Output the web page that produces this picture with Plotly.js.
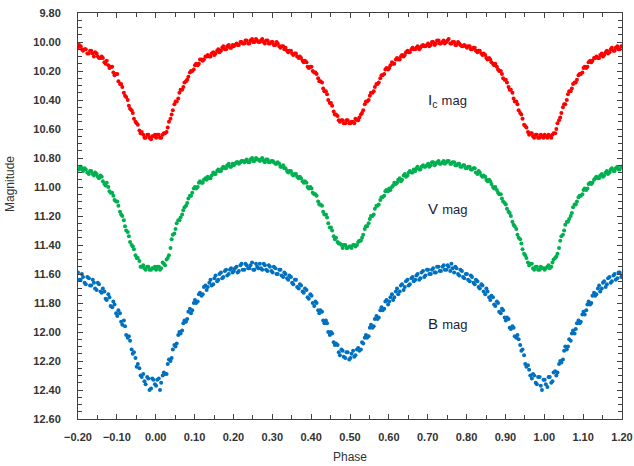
<!DOCTYPE html>
<html>
<head>
<meta charset="utf-8">
<script src="https://cdn.plot.ly/plotly-3.0.1.min.js"></script>
<style>html,body{margin:0;padding:0;background:#fff;}#chart{width:634px;height:466px;}</style>
</head>
<body>
<div id="chart"></div>
<script>
// Phase grid, first set of observations
const phase = [
-0.200,-0.193,-0.187,-0.180,-0.172,-0.166,-0.159,-0.152,-0.146,-0.139,
-0.132,-0.126,-0.119,-0.112,-0.106,-0.099,-0.092,-0.086,-0.079,-0.072,
-0.066,-0.059,-0.052,-0.046,-0.039,-0.032,-0.026,-0.019,-0.012,-0.006,
0.001,0.008,0.014,0.021,0.028,0.034,0.041,0.048,0.054,0.061,
0.068,0.074,0.081,0.088,0.094,0.101,0.108,0.114,0.121,0.128,
0.134,0.141,0.148,0.154,0.161,0.168,0.174,0.181,0.188,0.194,
0.201,0.208,0.214,0.221,0.228,0.234,0.241,0.248,0.254,0.261,
0.268,0.274,0.281,0.288,0.294,0.301,0.308,0.314,0.321,0.328,
0.334,0.341,0.348,0.354,0.361,0.368,0.374,0.381,0.388,0.394,
0.401,0.408,0.414,0.421,0.428,0.434,0.441,0.448,0.454,0.461,
0.468,0.474,0.481,0.488,0.494,0.501,0.508,0.514,0.521,0.528,
0.534,0.541,0.548,0.554,0.561,0.568,0.574,0.581,0.588,0.594,
0.601,0.608,0.614,0.621,0.628,0.634,0.641,0.648,0.654,0.661,
0.668,0.674,0.681,0.688,0.694,0.701,0.708,0.714,0.721,0.728,
0.734,0.741,0.748,0.754,0.761,0.768,0.774,0.781,0.788,0.794,
0.801,0.808,0.814,0.821,0.828,0.834,0.841,0.848,0.854,0.861,
0.868,0.874,0.881,0.888,0.894,0.901,0.908,0.914,0.921,0.928,
0.934,0.941,0.948,0.954,0.961,0.968,0.974,0.981,0.988,0.994,
1.001,1.008,1.014,1.021,1.028,1.034,1.041,1.048,1.054,1.061,
1.068,1.074,1.081,1.088,1.094,1.101,1.108,1.114,1.121,1.128,
1.134,1.141,1.148,1.154,1.161,1.168,1.174,1.181,1.188,1.194,
1.200
];

// Phase grid, second set of observations
const phase2 = [
-0.197,-0.190,-0.183,-0.176,-0.169,-0.162,-0.156,-0.149,-0.142,-0.136,
-0.129,-0.122,-0.116,-0.109,-0.102,-0.096,-0.089,-0.082,-0.076,-0.069,
-0.062,-0.056,-0.049,-0.042,-0.036,-0.029,-0.022,-0.016,-0.009,-0.002,
0.004,0.011,0.018,0.024,0.031,0.038,0.044,0.051,0.058,0.064,
0.071,0.078,0.084,0.091,0.098,0.104,0.111,0.118,0.124,0.131,
0.138,0.144,0.151,0.158,0.164,0.171,0.178,0.184,0.191,0.198,
0.204,0.211,0.218,0.224,0.231,0.238,0.244,0.251,0.258,0.264,
0.271,0.278,0.284,0.291,0.298,0.304,0.311,0.318,0.324,0.331,
0.338,0.344,0.351,0.358,0.364,0.371,0.378,0.384,0.391,0.398,
0.404,0.411,0.418,0.424,0.431,0.438,0.444,0.451,0.458,0.464,
0.471,0.478,0.484,0.491,0.498,0.504,0.511,0.518,0.524,0.531,
0.538,0.544,0.551,0.558,0.564,0.571,0.578,0.584,0.591,0.598,
0.604,0.611,0.618,0.624,0.631,0.638,0.644,0.651,0.658,0.664,
0.671,0.678,0.684,0.691,0.698,0.704,0.711,0.718,0.724,0.731,
0.738,0.744,0.751,0.758,0.764,0.771,0.778,0.784,0.791,0.798,
0.804,0.811,0.818,0.824,0.831,0.838,0.844,0.851,0.858,0.864,
0.871,0.878,0.884,0.891,0.898,0.904,0.911,0.918,0.924,0.931,
0.938,0.944,0.951,0.958,0.964,0.971,0.978,0.984,0.991,0.998,
1.004,1.011,1.018,1.024,1.031,1.038,1.044,1.051,1.058,1.064,
1.071,1.078,1.084,1.091,1.098,1.104,1.111,1.118,1.124,1.131,
1.138,1.144,1.151,1.158,1.164,1.171,1.178,1.184,1.191,1.198
];

// Ic magnitudes (set 1, set 2)
const icMag = [
10.04,10.03,10.06,10.05,10.08,10.06,10.10,10.08,10.11,10.10,
10.14,10.13,10.18,10.17,10.23,10.22,10.29,10.31,10.37,10.40,
10.46,10.49,10.55,10.57,10.63,10.64,10.66,10.64,10.67,10.65,
10.66,10.64,10.66,10.63,10.62,10.55,10.50,10.43,10.41,10.35,
10.33,10.28,10.26,10.21,10.20,10.16,10.16,10.12,10.13,10.10,
10.09,10.10,10.07,10.08,10.05,10.06,10.03,10.05,10.02,10.04,
10.03,10.01,10.02,10.00,10.01,9.99,10.01,9.98,10.00,9.99,
10.00,9.98,10.01,9.99,10.01,10.00,10.02,10.01,10.04,10.03,
10.04,10.07,10.06,10.09,10.08,10.11,10.11,10.14,10.14,10.18,
10.17,10.21,10.22,10.27,10.28,10.34,10.36,10.42,10.44,10.50,
10.51,10.55,10.54,10.56,10.54,10.56,10.55,10.53,10.54,10.50,
10.47,10.41,10.40,10.35,10.34,10.29,10.28,10.23,10.22,10.18,
10.18,10.14,10.15,10.11,10.12,10.09,10.09,10.06,10.07,10.04,
10.05,10.03,10.04,10.02,10.03,10.01,10.02,10.00,10.01,9.99,
10.01,9.99,10.00,9.98,10.01,10.00,10.02,10.01,10.03,10.02,
10.04,10.03,10.05,10.04,10.07,10.06,10.09,10.09,10.12,10.12,
10.15,10.15,10.19,10.20,10.25,10.26,10.31,10.33,10.39,10.41,
10.47,10.50,10.57,10.59,10.64,10.63,10.66,10.64,10.66,10.65,
10.64,10.66,10.65,10.64,10.63,10.56,10.52,10.45,10.43,10.36,
10.34,10.29,10.28,10.23,10.22,10.18,10.18,10.14,10.14,10.11,
10.10,10.11,10.08,10.09,10.06,10.07,10.04,10.06,10.03,10.05,
10.03
];
const icMag2 = [
10.02,10.05,10.05,10.08,10.06,10.08,10.07,10.10,10.11,10.11,
10.15,10.16,10.17,10.21,10.22,10.27,10.29,10.35,10.38,10.44,
10.47,10.53,10.56,10.61,10.62,10.66,10.64,10.66,10.65,10.64,
10.64,10.66,10.64,10.63,10.59,10.53,10.47,10.41,10.39,10.33,
10.31,10.27,10.24,10.20,10.19,10.15,10.15,10.12,10.12,10.10,
10.10,10.08,10.09,10.06,10.07,10.04,10.05,10.03,10.04,10.02,
10.02,10.02,10.00,10.01,9.99,10.01,9.99,10.00,9.98,10.00,
9.99,10.00,9.99,10.01,10.00,10.02,10.00,10.03,10.03,10.05,
10.06,10.06,10.08,10.08,10.10,10.10,10.13,10.13,10.17,10.17,
10.20,10.21,10.25,10.27,10.32,10.34,10.40,10.42,10.48,10.50,
10.54,10.54,10.56,10.54,10.56,10.55,10.56,10.54,10.52,10.49,
10.43,10.41,10.37,10.35,10.31,10.29,10.25,10.23,10.19,10.19,
10.16,10.15,10.12,10.12,10.10,10.10,10.07,10.07,10.05,10.05,
10.04,10.05,10.03,10.03,10.02,10.03,10.00,10.02,9.99,10.01,
10.00,10.01,9.99,10.01,10.00,10.02,10.00,10.02,10.03,10.03,
10.03,10.05,10.04,10.06,10.06,10.08,10.08,10.11,10.11,10.14,
10.16,10.17,10.20,10.22,10.26,10.28,10.33,10.35,10.41,10.43,
10.49,10.53,10.58,10.62,10.63,10.65,10.64,10.66,10.64,10.66,
10.65,10.64,10.66,10.63,10.60,10.54,10.49,10.43,10.40,10.34,
10.32,10.28,10.26,10.22,10.21,10.17,10.17,10.13,10.13,10.11,
10.11,10.09,10.10,10.07,10.08,10.05,10.06,10.04,10.05,10.03
];

// V magnitudes (set 1, set 2)
const vMag = [
10.87,10.86,10.89,10.88,10.91,10.89,10.92,10.91,10.94,10.93,
10.98,10.97,11.03,11.04,11.09,11.10,11.17,11.20,11.27,11.31,
11.38,11.41,11.47,11.49,11.55,11.54,11.57,11.55,11.57,11.56,
11.57,11.55,11.56,11.53,11.50,11.47,11.36,11.32,11.25,11.23,
11.19,11.14,11.11,11.06,11.04,11.00,11.00,10.96,10.97,10.94,
10.93,10.94,10.90,10.91,10.88,10.89,10.86,10.87,10.84,10.86,
10.85,10.83,10.84,10.82,10.83,10.81,10.83,10.80,10.82,10.81,
10.82,10.80,10.83,10.81,10.83,10.82,10.84,10.83,10.86,10.85,
10.87,10.90,10.89,10.92,10.91,10.94,10.94,10.97,10.97,11.01,
11.01,11.05,11.06,11.12,11.13,11.19,11.21,11.28,11.30,11.36,
11.38,11.39,11.42,11.40,11.42,11.41,11.40,11.41,11.38,11.37,
11.33,11.27,11.25,11.20,11.19,11.13,11.12,11.07,11.06,11.02,
11.01,11.00,10.97,10.97,10.94,10.95,10.91,10.92,10.89,10.90,
10.89,10.86,10.88,10.85,10.86,10.84,10.85,10.83,10.84,10.82,
10.84,10.82,10.83,10.82,10.84,10.83,10.85,10.84,10.86,10.85,
10.87,10.86,10.88,10.87,10.91,10.90,10.93,10.93,10.96,10.96,
11.00,11.00,11.04,11.05,11.10,11.12,11.17,11.20,11.26,11.29,
11.35,11.39,11.46,11.49,11.54,11.53,11.57,11.55,11.57,11.56,
11.57,11.55,11.56,11.52,11.49,11.46,11.37,11.33,11.26,11.24,
11.20,11.14,11.12,11.07,11.06,11.02,11.02,10.98,10.98,10.95,
10.93,10.94,10.91,10.92,10.89,10.90,10.87,10.89,10.86,10.88,
10.86
];
const vMag2 = [
10.88,10.87,10.87,10.90,10.89,10.91,10.90,10.93,10.92,10.96,
10.99,11.00,11.04,11.06,11.10,11.13,11.19,11.23,11.30,11.34,
11.40,11.43,11.49,11.51,11.55,11.56,11.55,11.57,11.56,11.55,
11.55,11.57,11.52,11.54,11.49,11.42,11.33,11.29,11.23,11.21,
11.16,11.13,11.08,11.06,11.01,11.01,10.97,10.97,10.95,10.95,
10.94,10.92,10.91,10.89,10.89,10.87,10.87,10.85,10.86,10.84,
10.84,10.83,10.83,10.82,10.82,10.83,10.81,10.82,10.80,10.81,
10.81,10.82,10.81,10.83,10.82,10.83,10.84,10.84,10.86,10.87,
10.89,10.89,10.91,10.91,10.93,10.93,10.96,10.96,11.00,11.00,
11.04,11.05,11.10,11.12,11.17,11.19,11.25,11.28,11.34,11.35,
11.39,11.40,11.40,11.42,11.41,11.42,11.40,11.40,11.37,11.35,
11.29,11.27,11.22,11.20,11.15,11.13,11.09,11.07,11.03,11.03,
11.02,10.99,10.98,10.95,10.96,10.92,10.93,10.90,10.90,10.88,
10.87,10.88,10.86,10.86,10.85,10.86,10.83,10.85,10.83,10.84,
10.83,10.84,10.82,10.84,10.83,10.85,10.84,10.86,10.85,10.87,
10.86,10.88,10.87,10.90,10.89,10.92,10.92,10.95,10.95,10.98,
11.01,11.02,11.05,11.08,11.11,11.15,11.18,11.24,11.27,11.33,
11.36,11.43,11.47,11.52,11.53,11.56,11.55,11.57,11.55,11.56,
11.56,11.54,11.55,11.50,11.48,11.42,11.34,11.30,11.24,11.22,
11.18,11.12,11.10,11.06,11.05,11.01,11.01,10.97,10.97,10.94,
10.94,10.92,10.93,10.90,10.91,10.88,10.89,10.87,10.88,10.86
];

// B magnitudes (set 1, set 2)
const bMag = [
11.59,11.64,11.62,11.67,11.63,11.68,11.66,11.71,11.67,11.73,
11.72,11.78,11.76,11.83,11.81,11.89,11.87,11.95,11.96,12.04,
12.06,12.15,12.18,12.22,12.30,12.29,12.36,12.32,12.39,12.33,
12.37,12.32,12.35,12.28,12.29,12.19,12.18,12.09,12.08,12.00,
11.99,11.92,11.91,11.84,11.85,11.78,11.79,11.73,11.74,11.68,
11.69,11.64,11.67,11.61,11.64,11.59,11.62,11.57,11.60,11.56,
11.58,11.55,11.58,11.53,11.57,11.54,11.56,11.52,11.57,11.55,
11.53,11.57,11.54,11.58,11.55,11.59,11.56,11.60,11.57,11.62,
11.60,11.64,11.62,11.67,11.64,11.70,11.68,11.73,11.71,11.77,
11.75,11.82,11.80,11.87,11.86,11.94,11.94,12.02,12.01,12.09,
12.09,12.16,12.13,12.18,12.14,12.18,12.13,12.16,12.11,12.12,
12.08,12.02,12.03,11.95,11.96,11.89,11.90,11.83,11.84,11.78,
11.79,11.74,11.76,11.70,11.72,11.67,11.69,11.64,11.67,11.62,
11.64,11.60,11.63,11.58,11.61,11.57,11.60,11.56,11.59,11.55,
11.58,11.54,11.57,11.55,11.53,11.59,11.56,11.61,11.58,11.63,
11.60,11.65,11.62,11.67,11.65,11.70,11.68,11.74,11.72,11.78,
11.76,11.82,11.80,11.87,11.85,11.92,11.91,11.98,11.97,12.04,
12.05,12.13,12.16,12.24,12.26,12.32,12.30,12.36,12.31,12.40,
12.33,12.38,12.31,12.34,12.27,12.28,12.20,12.19,12.10,12.10,
12.06,11.99,11.98,11.92,11.93,11.86,11.85,11.79,11.80,11.73,
11.74,11.68,11.70,11.65,11.67,11.62,11.65,11.60,11.63,11.59,
11.61
];
const bMag2 = [
11.64,11.60,11.66,11.62,11.68,11.64,11.70,11.66,11.72,11.70,
11.77,11.74,11.82,11.79,11.87,11.85,11.93,11.92,12.02,12.03,
12.12,12.14,12.24,12.25,12.31,12.34,12.31,12.40,12.32,12.36,
12.33,12.40,12.30,12.29,12.22,12.20,12.12,12.10,12.02,12.01,
11.94,11.93,11.86,11.87,11.80,11.80,11.74,11.75,11.69,11.71,
11.66,11.68,11.63,11.65,11.60,11.63,11.58,11.61,11.57,11.59,
11.56,11.59,11.54,11.57,11.53,11.56,11.54,11.57,11.53,11.56,
11.56,11.53,11.57,11.54,11.58,11.55,11.60,11.57,11.61,11.59,
11.63,11.61,11.66,11.64,11.69,11.67,11.72,11.70,11.76,11.74,
11.80,11.79,11.85,11.85,11.92,11.92,12.00,12.00,12.07,12.08,
12.14,12.12,12.17,12.14,12.19,12.15,12.17,12.12,12.13,12.07,
12.04,12.04,11.97,11.97,11.91,11.91,11.85,11.85,11.79,11.81,
11.76,11.78,11.72,11.74,11.68,11.71,11.65,11.68,11.63,11.65,
11.61,11.64,11.59,11.62,11.57,11.60,11.57,11.59,11.55,11.58,
11.55,11.57,11.54,11.58,11.56,11.55,11.60,11.57,11.62,11.60,
11.64,11.61,11.66,11.64,11.69,11.67,11.72,11.70,11.76,11.75,
11.81,11.79,11.86,11.84,11.90,11.90,11.97,11.96,12.03,12.02,
12.09,12.12,12.22,12.23,12.30,12.29,12.35,12.31,12.37,12.33,
12.36,12.31,12.35,12.28,12.30,12.22,12.21,12.13,12.12,12.05,
12.01,12.01,11.94,11.94,11.88,11.88,11.81,11.81,11.75,11.75,
11.70,11.72,11.66,11.69,11.63,11.66,11.61,11.64,11.59,11.62
];

const seriesNames = ["Ic mag", "V mag", "B mag"];
const seriesColors = ["#ff0000", "#00b050", "#0070c0"];
const seriesX = [phase.concat(phase2), phase.concat(phase2), phase.concat(phase2)];
const seriesY = [icMag.concat(icMag2), vMag.concat(vMag2), bMag.concat(bMag2)];

// in-plot labels (data coordinates)
const labelText = ["I<sub>c</sub> <span style='font-size:13px'>mag</span>", "V <span style='font-size:13px'>mag</span>", "B <span style='font-size:13px'>mag</span>"];
const labelX = [0.75, 0.75, 0.75];
const labelY = [10.40, 11.15, 11.94];

const traces = seriesY.map((m, i) => ({
  type: "scatter",
  mode: "markers",
  x: seriesX[i],
  y: m,
  name: seriesNames[i],
  marker: { color: seriesColors[i], size: 4 },
  hoverinfo: "x+y"
}));

const fam = "Liberation Sans, Arial, sans-serif";
const tickFont = { family: fam, size: 11, color: "#333333", weight: "bold" };

const layout = {
  width: 634, height: 466,
  margin: { l: 78, r: 12, t: 13, b: 47 },
  paper_bgcolor: "#ffffff", plot_bgcolor: "#ffffff",
  showlegend: false,
  font: { family: fam, color: "#333333" },
  xaxis: {
    range: [-0.2, 1.2], dtick: 0.1, tick0: 0, tickformat: ".2f",
    showgrid: false, zeroline: false,
    showline: true, linecolor: "#404040", linewidth: 1, mirror: "ticks",
    ticks: "inside", ticklen: 5, tickcolor: "#404040",
    minor: { dtick: 0.05, ticks: "inside", ticklen: 4, tickcolor: "#404040", showgrid: false },
    tickfont: tickFont, ticklabelstandoff: 8,
    title: { text: "Phase", font: { family: fam, size: 12, color: "#333333" }, standoff: 10 }
  },
  yaxis: {
    range: [12.6, 9.8], dtick: 0.2, tick0: 9.8, tickformat: ".2f",
    showgrid: false, zeroline: false,
    showline: true, linecolor: "#404040", linewidth: 1, mirror: "ticks",
    ticks: "inside", ticklen: 5, tickcolor: "#404040",
    minor: { dtick: 0.05, ticks: "inside", ticklen: 4, tickcolor: "#404040", showgrid: false },
    tickfont: tickFont, ticklabelstandoff: 14
  },
  annotations: labelText.map((t, i) => ({
    x: labelX[i], y: labelY[i], xref: "x", yref: "y",
    text: t, showarrow: false,
    font: { family: fam, size: 15, color: "#1c1c3c" }
  })).concat([{
    x: (10 - 78) / 544, y: 1 - (184 - 13) / 406, xref: "paper", yref: "paper",
    xanchor: "center", yanchor: "middle",
    text: "Magnitude", textangle: -90, showarrow: false,
    font: { family: fam, size: 12, color: "#333333" }
  }])
};

Plotly.newPlot("chart", traces, layout, { displayModeBar: false, staticPlot: true });
</script>
</body>
</html>
